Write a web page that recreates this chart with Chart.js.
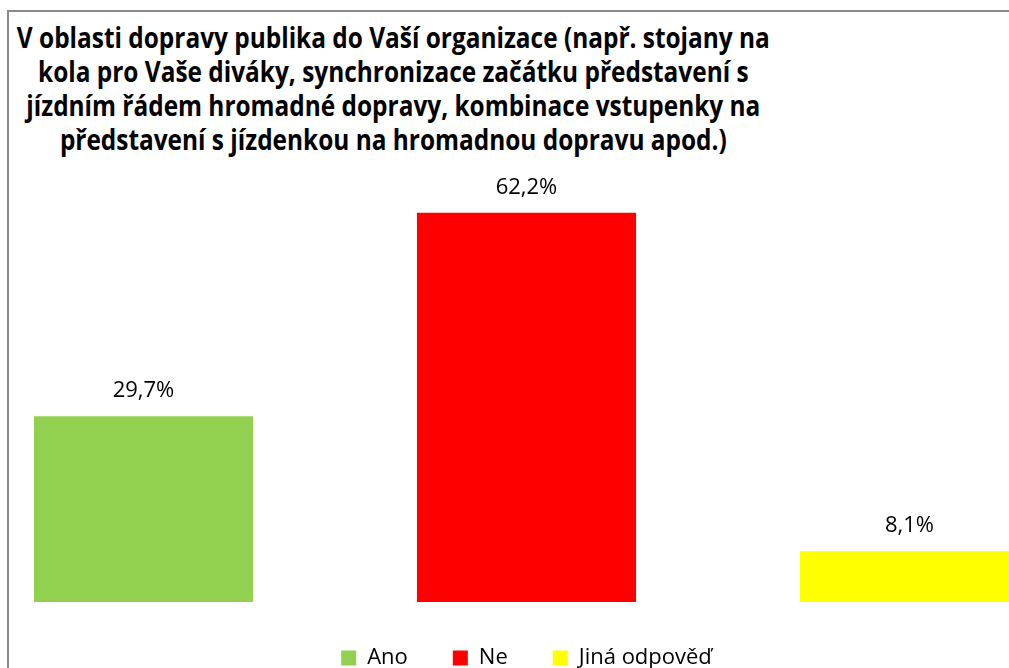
<!DOCTYPE html>
<html>
<head>
<meta charset="utf-8">
<script src="https://cdn.jsdelivr.net/npm/chart.js"></script>
<style>
    html, body { margin: 0; padding: 0; background: #fff; overflow: hidden; width: 1009px; height: 668px; }
    #ramecek { position: absolute; left: 7px; top: 10px; width: 1010px; height: 670px; border-left: 2px solid #8a8a8a; border-top: 2px solid #8a8a8a; }
    #titulek { position: absolute; top: 20px; text-align: center; white-space: nowrap;
               font-family: "Open Sans"; font-weight: 700; font-size: 29px; line-height: 34px; color: #000; }
    #titulek span { display: block; }
    #obal { position: absolute; left: -48px; top: 0; width: 1149px; height: 679px; }
</style>
</head>
<body>
<div id="ramecek"></div>
<div id="titulek"></div>
<div id="obal"><canvas id="myChart"></canvas></div>
<script>
var radkyTitulku = [
    'V oblasti dopravy publika do Vaší organizace (např. stojany na',
    'kola pro Vaše diváky, synchronizace začátku představení s',
    'jízdním řádem hromadné dopravy, kombinace vstupenky na',
    'představení s jízdenkou na hromadnou dopravu apod.)'
];
var labelOdpovedi = ['Ano', 'Ne', 'Jiná odpověď'];
var labelProcenta = [29.7, 62.2, 8.1];
var labelBarvy = ['rgb(146, 208, 80)', 'rgb(255, 0, 0)', 'rgb(255, 255, 0)'];

// titulek - text je v originale stlaceny do sirky, stred kolem x = 393
var titulek = document.getElementById('titulek');
radkyTitulku.forEach(function (r) {
    var s = document.createElement('span');
    s.textContent = r;
    titulek.appendChild(s);
});
var mereni = document.createElement('canvas').getContext('2d');
mereni.font = '700 29px "Open Sans"';
var sirka = mereni.measureText(radkyTitulku[0]).width;
titulek.style.width = sirka + 'px';
titulek.style.left = (393.5 - sirka / 2) + 'px';
titulek.style.transformOrigin = '50% 0';
titulek.style.transform = 'scaleX(' + (753 / sirka) + ')';

// popisky nad sloupci
const popisky = {
    id: 'popisky',
    afterDatasetsDraw(chart) {
        const ctx = chart.ctx;
        ctx.save();
        ctx.font = '22px "Open Sans"';
        ctx.fillStyle = '#000';
        ctx.textAlign = 'center';
        ctx.textBaseline = 'alphabetic';
        chart.getDatasetMeta(0).data.forEach((bar, i) => {
            const text = labelProcenta[i].toFixed(1).replace('.', ',') + '%';
            ctx.fillText(text, bar.x, bar.y - 19);
        });
        ctx.restore();
    }
};

function chartDoprava() {

    const data = {
    labels: labelOdpovedi,
    datasets: [{
        label: 'Doprava publika',
        backgroundColor: labelBarvy,
        borderColor: labelBarvy,
        borderWidth: 0,
        data: labelProcenta,
        barPercentage: 0.572,
        categoryPercentage: 1,
    }]
    };

    const config = {
    type: 'bar',
    data: data,
    plugins: [popisky],
    options: {
        responsive: true,
        maintainAspectRatio: false,
        animation: false,
        layout: { padding: { top: 164, left: 0, right: 0, bottom: 0 } },
        scales: {
            x: { display: false },
            y: { display: false, min: 0, max: 70 }
        },
        plugins: {
            tooltip: { enabled: false },
            legend: {
                position: 'bottom',
                labels: {
                    boxWidth: 15,
                    boxHeight: 15,
                    padding: 45,
                    color: '#000',
                    font: { family: 'Open Sans', size: 22 },
                    generateLabels: (chart) => chart.data.labels.map((l, i) => ({
                        text: l,
                        fillStyle: labelBarvy[i],
                        strokeStyle: labelBarvy[i],
                        lineWidth: 0,
                        index: i
                    }))
                }
            }
        }
    }
    };

    const myChart = new Chart(
    document.getElementById('myChart'),
    config
    );
}
chartDoprava();
</script>
</body>
</html>
